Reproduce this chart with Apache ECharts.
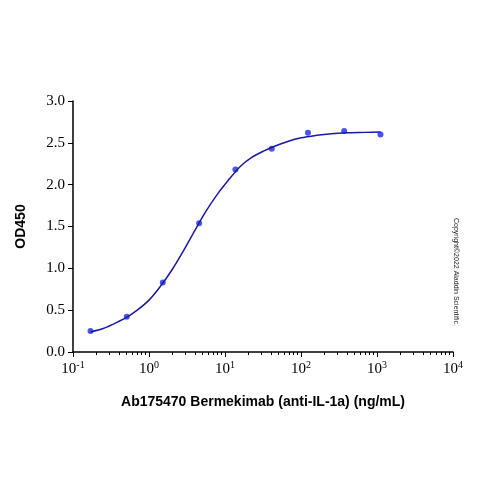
<!DOCTYPE html><html><head><meta charset="utf-8"><script src="https://cdn.jsdelivr.net/npm/echarts@6/dist/echarts.min.js"></script></head><body style="margin:0"><div id="c" style="width:500px;height:500px"></div><script>
const concX=[0.17,0.51,1.52,4.57,13.7,41.2,123.5,370,1111];
const od=[0.25,0.42,0.83,1.54,2.18,2.43,2.62,2.64,2.60];
const fitX=[0.17,0.25,0.35,0.5,0.7,1,1.4,2,2.8,4,5.6,8,11,16,22,32,45,64,100,160,250,400,700,1111];
const fitY=[0.24,0.28,0.34,0.41,0.50,0.62,0.78,0.98,1.20,1.45,1.68,1.89,2.05,2.22,2.32,2.40,2.46,2.51,2.56,2.59,2.61,2.62,2.625,2.63];
const ch=echarts.init(document.getElementById('c'));
ch.setOption({
 animation:false,
 grid:{left:73,right:47,top:101,bottom:148},
 xAxis:{type:'log',min:0.1,max:10000,logBase:10,
  name:'Ab175470 Bermekimab (anti-IL-1a) (ng/mL)',nameLocation:'middle',nameGap:43,
  nameTextStyle:{fontFamily:'Liberation Sans',fontWeight:'bold',fontSize:14,color:'#000'},
  axisLine:{lineStyle:{color:'#000',width:1.5}},axisTick:{lineStyle:{color:'#000'},length:5},
  minorTick:{show:true,splitNumber:9,length:3,lineStyle:{color:'#000'}},splitLine:{show:false},
  axisLabel:{color:'#000',fontFamily:'Liberation Serif',fontSize:15,margin:8,
   formatter:v=>{const e=String(Math.round(Math.log10(v)));return '10{s|'+e+'}';},
   rich:{s:{fontSize:10,verticalAlign:'top',padding:[0,0,8,0],fontFamily:'Liberation Serif',color:'#000'}}}},
 yAxis:{type:'value',min:0,max:3,interval:0.5,name:'OD450',nameLocation:'middle',nameGap:45,
  nameTextStyle:{fontFamily:'Liberation Sans',fontWeight:'bold',fontSize:14,color:'#000'},
  axisLine:{show:true,lineStyle:{color:'#000',width:1.5}},axisTick:{show:true,lineStyle:{color:'#000'},length:5},
  splitLine:{show:false},
  axisLabel:{color:'#000',fontFamily:'Liberation Serif',fontSize:15,formatter:v=>v.toFixed(1)}},
 graphic:[{type:'text',left:452,top:218,rotation:-Math.PI/2,style:{text:'Copyright©2022 Aladdin Scientific.',fontSize:7,fontFamily:'Liberation Sans',fill:'#222'}}],
 series:[
  {type:'line',data:fitX.map((x,i)=>[x,fitY[i]]),smooth:0.3,showSymbol:false,lineStyle:{color:'#1a1aa0',width:1.5}},
  {type:'scatter',data:concX.map((x,i)=>[x,od[i]]),symbolSize:6,itemStyle:{color:'#1a2ee0'}}
 ]});
</script></body></html>
